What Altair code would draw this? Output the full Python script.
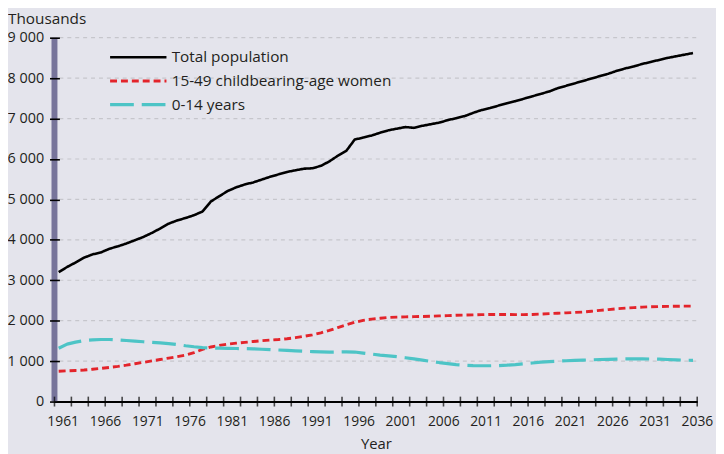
import altair as alt
import pandas as pd

years = list(range(1961, 2037))

total_population = [
    3200, 3330, 3440, 3560, 3640, 3690, 3780, 3840, 3910, 3990,
    4070, 4170, 4280, 4400, 4480, 4540, 4610, 4700, 4950, 5080,
    5210, 5300, 5370, 5420, 5490, 5560, 5620, 5680, 5720, 5760,
    5770, 5830, 5940, 6080, 6200, 6480, 6530, 6580, 6650, 6710,
    6750, 6790, 6770, 6820, 6860, 6900, 6960, 7010, 7060, 7140,
    7210, 7260, 7320, 7380, 7430, 7490, 7550, 7610, 7670, 7750,
    7810, 7870, 7930, 7990, 8050, 8110, 8180, 8240, 8290, 8350,
    8400, 8450, 8500, 8540, 8580, 8620,
]

women_15_49 = [
    750, 760, 770, 780, 800, 820, 845, 870, 900, 935,
    970, 1005, 1040, 1075, 1110, 1150, 1210, 1290, 1350, 1390,
    1420, 1445, 1465, 1485, 1505, 1520, 1535, 1555, 1580, 1615,
    1650, 1700, 1760, 1830, 1900, 1960, 2010, 2040, 2060, 2080,
    2090, 2095, 2100, 2105, 2110, 2120, 2125, 2135, 2140, 2145,
    2150, 2155, 2155, 2155, 2150, 2150, 2155, 2165, 2175, 2185,
    2195, 2205, 2215, 2235, 2255, 2275, 2295, 2310, 2325, 2335,
    2345, 2350, 2355, 2358, 2360, 2360,
]

children_0_14 = [
    1320, 1420, 1470, 1510, 1525, 1535, 1535, 1525, 1510, 1495,
    1480, 1465, 1450, 1435, 1410, 1380, 1355, 1335, 1325, 1320,
    1315, 1312, 1310, 1305, 1295, 1285, 1275, 1265, 1255, 1245,
    1235, 1228, 1225, 1225, 1230, 1225, 1200, 1175, 1150, 1130,
    1110, 1085, 1055, 1025, 995, 965, 940, 915, 900, 890,
    885, 885, 890, 900, 915, 935, 955, 975, 990, 1000,
    1010, 1018, 1025, 1032, 1040, 1045, 1050, 1055, 1055, 1055,
    1052, 1048, 1040, 1032, 1025, 1020,
]

series_names = ["Total population", "15-49 childbearing-age women", "0-14 years"]
label_years = list(range(1961, 2037, 5))
tick_years = [1960.5 + 2 * k for k in range(39)]
y_values = list(range(0, 10000, 1000))
grid_values = list(range(1000, 10000, 1000))

rows = []
for name, vals in zip(series_names, [total_population, women_15_49, children_0_14]):
    for yr, v in zip(years, vals):
        rows.append({"Year": yr, "Value": v, "Series": name})
df = pd.DataFrame(rows)

W, H = 650, 368
FONT = "Open Sans"
TXT = "#231f20"
BG = "#e4e4ec"

xscale = alt.Scale(domain=[1960.5, 2036.5], nice=False, zero=False)
yscale = alt.Scale(domain=[0, 9000], nice=False, zero=True)

x_axis = alt.Axis(
    values=label_years,
    format="d",
    ticks=False,
    grid=False,
    domainColor="black",
    domainWidth=2,
    labelOffset=4,
    labelPadding=13,
    labelFlush=False,
    labelOverlap=False,
    labelFont=FONT,
    labelFontSize=14,
    labelColor=TXT,
    title="Year",
    titleFont=FONT,
    titleFontSize=15,
    titleFontWeight="normal",
    titleColor=TXT,
    titlePadding=8,
)

y_axis = alt.Axis(
    values=y_values,
    labelExpr="replace(format(datum.value, ','), ',', ' ')",
    grid=False,
    domain=False,
    tickSize=10,
    tickColor="black",
    tickWidth=1.6,
    offset=-5,
    labelPadding=6,
    labelFont=FONT,
    labelFontSize=14.5,
    labelColor=TXT,
    title=None,
    zindex=1,
)

# custom horizontal stroke symbol: length = 10 * sqrt(size) / 2
SYM_SIZE = 130
legend = alt.Legend(
    title=None,
    orient="none",
    legendX=77,
    legendY=12,
    symbolType="M-5,0H5",
    symbolSize=SYM_SIZE,
    symbolStrokeWidth=3,
    labelFont=FONT,
    labelFontSize=15.5,
    labelColor=TXT,
    labelOffset=26,
    labelLimit=0,
    rowPadding=7,
    padding=0,
)

grid = alt.Chart(pd.DataFrame({"Value": grid_values})).mark_rule(
    color="#c6c6cc", strokeDash=[4, 4], strokeWidth=1.2
).encode(
    y=alt.Y("Value:Q", scale=yscale, axis=y_axis),
    x=alt.value(5),
    x2=alt.value(W),
)

bar = alt.Chart(pd.DataFrame({"g": [0]})).mark_rule(
    color="#77749a", strokeWidth=6
).encode(
    x=alt.value(0),
    y=alt.value(0),
    y2=alt.value(H),
)

lines = alt.Chart(df).mark_line(strokeCap="butt", strokeJoin="round").encode(
    x=alt.X("Year:Q", scale=xscale, axis=x_axis),
    y=alt.Y("Value:Q", scale=yscale, axis=y_axis),
    color=alt.Color(
        "Series:N",
        sort=series_names,
        scale=alt.Scale(domain=series_names, range=["#000000", "#e3242b", "#4dc4c6"]),
        legend=legend,
    ),
    strokeDash=alt.StrokeDash(
        "Series:N",
        sort=series_names,
        scale=alt.Scale(domain=series_names, range=[[1, 0], [7, 4], [24, 8]]),
        legend=legend,
    ),
    strokeWidth=alt.StrokeWidth(
        "Series:N",
        scale=alt.Scale(domain=series_names, range=[2.6, 3.2, 3.2]),
        legend=None,
    ),
)

ticks = alt.Chart(pd.DataFrame({"Year": tick_years})).mark_tick(
    orient="vertical", size=10, thickness=1.6, color="black"
).encode(
    x=alt.X("Year:Q", scale=xscale, axis=x_axis),
    y=alt.value(H),
)

chart = alt.layer(grid, bar, lines, ticks).properties(
    width=W,
    height=H,
    background=BG,
    padding={"left": 47, "top": 27.5, "right": 19, "bottom": 51},
    autosize=alt.AutoSizeParams(type="none"),
    title=alt.TitleParams(
        text="Thousands",
        anchor="start",
        frame="group",
        dx=-47,
        dy=-2,
        offset=0,
        font=FONT,
        fontSize=15.5,
        fontWeight="normal",
        color=TXT,
    ),
).configure_view(stroke=None)

chart.save("out.html", embed_options={"renderer": "svg", "actions": False})
